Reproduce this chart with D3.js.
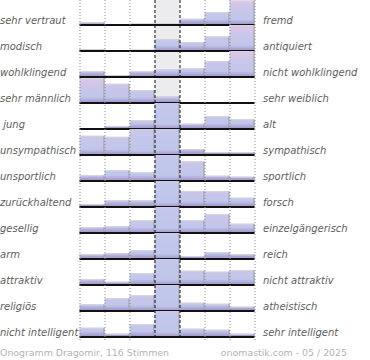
<!DOCTYPE html>
<html><head><meta charset="utf-8">
<script src="https://cdn.jsdelivr.net/npm/d3@7"></script>
<style>body{margin:0;background:#fff}svg{display:block}</style>
</head><body>
<script>
const leftLabels = ["sehr vertraut","modisch","wohlklingend","sehr männlich"," jung","unsympathisch","unsportlich","zurückhaltend","gesellig","arm","attraktiv","religiös","nicht intelligent"];
const rightLabels = ["fremd","antiquiert","nicht wohlklingend","sehr weiblich","alt","sympathisch","sportlich","forsch","einzelgängerisch","reich","nicht attraktiv","atheistisch","sehr intelligent"];
const steps = [1,2,3,4,5,6,7];
const values = [
  [5,0,2.5,2.5,12,24.5,47],
  [3.3,0,2.5,22.5,17,28,50],
  [11,3.3,11,14.8,16.7,30.8,50],
  [47.5,37,24.5,13,0,0,0],
  [0,5.8,16.7,80,10.2,24.4,18.7],
  [37,35,70,80,11.5,5.8,5.8],
  [11,20.6,16.7,80,37.9,10.2,8.3],
  [5.8,13.5,13.5,80,30.8,30.2,17.9],
  [11,12.9,24.4,80,24.4,36,17.9],
  [9,11.5,16.7,80,5.8,12.9,9],
  [11,6.3,22.5,80,27.5,25.6,28.3],
  [12.9,24.4,30.2,80,16,14,8.3],
  [17.9,6.3,24.4,80,16,14,6.3]
];
const footerLeft = "Onogramm Dragomir, 116 Stimmen";
const footerRight = "onomastik.com - 05 / 2025";

const W = 370, H = 360;
const x0 = 79.5, colW = 25, rowH = 26, firstBase = 25;
const svg = d3.select("body").append("svg").attr("width", W).attr("height", H);

const x = d3.scaleBand().domain(steps).range([x0, x0 + colW*7]).padding(0);
const yRow = d3.scaleBand().domain(d3.range(leftLabels.length)).range([firstBase - rowH, firstBase - rowH + rowH*leftLabels.length]);
const h = d3.scaleLinear().domain([0, 50]).range([0, rowH]);

const defs = svg.append("defs");
const g = defs.append("linearGradient").attr("id","barGrad")
  .attr("gradientUnits","userSpaceOnUse").attr("x1",0).attr("x2",0).attr("y1",0).attr("y2",rowH);
[[0,"#e2c6e6"],[0.35,"#cbc6ea"],[0.78,"#c0c6ea"],[1,"#9d8ec6"]].forEach(s=>g.append("stop").attr("offset",s[0]).attr("stop-color",s[1]));
const g2 = defs.append("linearGradient").attr("id","tallGrad")
  .attr("x1",0).attr("x2",0).attr("y1",0).attr("y2",1);
[[0,"#e2c6e6"],[0.3,"#cbc8ea"],[0.5,"#c2c8ea"],[0.88,"#c0c6ea"],[1,"#a194c8"]].forEach(s=>g2.append("stop").attr("offset",s[0]).attr("stop-color",s[1]));
defs.append("clipPath").attr("id","rowClip").append("rect").attr("x",0).attr("y",0).attr("width",W).attr("height",rowH);

// middle band
svg.append("rect").attr("x", x(4)).attr("y", 0).attr("width", colW).attr("height", firstBase + rowH*12)
  .attr("fill","#ececee");

// rows
const rows = svg.selectAll("g.row").data(values).join("g").attr("class","row")
  .attr("transform",(d,i)=>`translate(0,${yRow(i)})`);
const inner = rows.append("g").attr("clip-path","url(#rowClip)");
const cells = d=>d.map((v,j)=>({v,s:steps[j]}));
inner.selectAll("rect").data(cells).join("rect")
  .attr("x",d=>x(d.s)).attr("width",colW)
  .attr("y",d=>rowH - h(d.v)).attr("height",d=>h(d.v))
  .attr("fill",d=>h(d.v) > rowH ? "url(#tallGrad)" : "url(#barGrad)");
inner.selectAll("path.top").data(d=>cells(d).filter(e=>e.v>0)).join("path").attr("class","top")
  .attr("d",d=>`M${x(d.s)},${rowH - h(d.v)+0.5}H${x(d.s)+colW-0.5}`)
  .attr("stroke","#d4d4dc").attr("fill","none");
inner.selectAll("path.edge").data(d=>cells(d).filter(e=>e.v>0)).join("path").attr("class","edge")
  .attr("d",d=>`M${x(d.s)+colW-0.5},${rowH - h(d.v)}V${rowH}`)
  .attr("stroke","#9a9aa4").attr("fill","none");

// grid lines
const gridBottom = firstBase + rowH*12 + 3;
svg.selectAll("line.dot").data([1,2,3,6,7,8]).join("line").attr("class","dot")
  .attr("x1",d=>x0 + colW*(d-1)+0.5).attr("x2",d=>x0 + colW*(d-1)+0.5)
  .attr("y1",0).attr("y2",gridBottom)
  .attr("stroke","#8a8a8a").attr("stroke-dasharray","1,2");
svg.selectAll("line.dash").data([4,5]).join("line").attr("class","dash")
  .attr("x1",d=>x0 + colW*(d-1)+0.5).attr("x2",d=>x0 + colW*(d-1)+0.5)
  .attr("y1",0).attr("y2",gridBottom)
  .attr("stroke","#111").attr("stroke-dasharray","3,2");

// baselines
rows.append("line").attr("x1",x0).attr("x2",x0+colW*7).attr("y1",rowH).attr("y2",rowH)
  .attr("stroke","#111").attr("stroke-width",2);

// labels
rows.append("text").attr("x",0).attr("y",rowH-1.5).text((d,i)=>leftLabels[i])
  .attr("font-family","DejaVu Sans").attr("font-style","italic").attr("font-size",10).attr("fill","#5e5e5e")
  .attr("xml:space","preserve").style("white-space","pre");
rows.append("text").attr("x",263).attr("y",rowH-1.5).text((d,i)=>rightLabels[i])
  .attr("font-family","DejaVu Sans").attr("font-style","italic").attr("font-size",10).attr("fill","#5e5e5e");

svg.append("text").attr("x",0).attr("y",355.5).text(footerLeft)
  .attr("font-family","DejaVu Sans").attr("font-size",9.4).attr("fill","#b4b4b4");
svg.append("text").attr("x",347).attr("y",355.5).attr("text-anchor","end").text(footerRight)
  .attr("font-family","DejaVu Sans").attr("font-size",9.4).attr("fill","#b4b4b4");
</script>
</body></html>
